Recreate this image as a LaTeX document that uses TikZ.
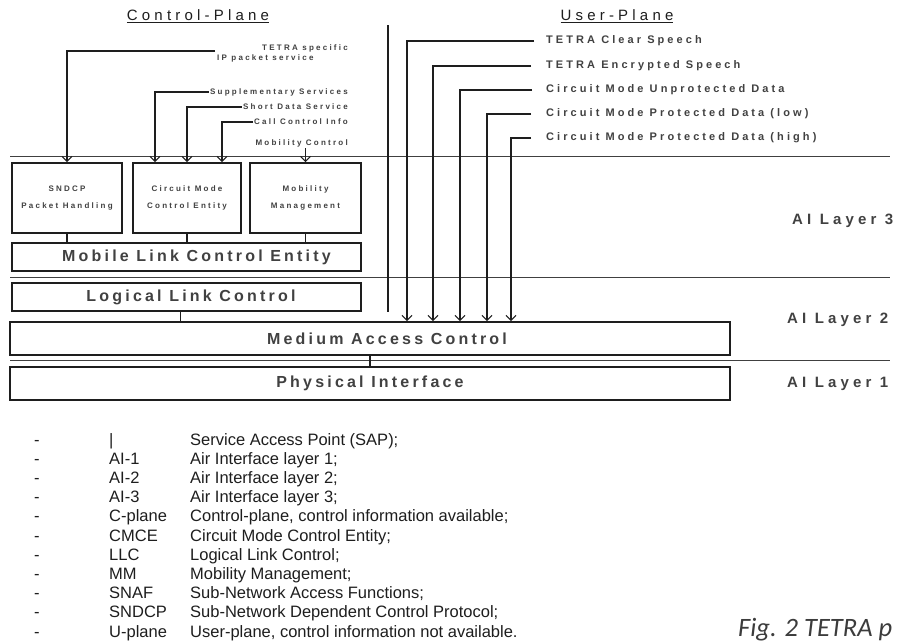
\documentclass[tikz,border=0pt]{standalone}
\usepackage{fontspec}
\setmainfont{Liberation Sans}
\newfontfamily\spaced[LetterSpace=28]{Liberation Sans}
\newfontfamily\boxfont[LetterSpace=20]{Liberation Sans}
\newfontfamily\capfont{Carlito}
\usetikzlibrary{arrows.meta, positioning, calc}
\definecolor{ink}{RGB}{30, 30, 30}
\definecolor{label}{RGB}{65, 65, 65}
\definecolor{capgray}{RGB}{60, 60, 60}

\begin{document}
\begin{tikzpicture}[
            x=1pt, y=-1pt,
            box/.style={draw=ink, line width=1.6pt, inner sep=0pt, text=label, align=center},
            bigbox/.style={box, minimum height=28pt, font=\boxfont\bfseries\fontsize{16}{18}\selectfont},
            smallbox/.style={box, minimum width=110pt, minimum height=70pt, font=\spaced\bfseries\fontsize{8}{17}\selectfont},
            arrow/.style={-{Straight Barb[length=5pt, width=10pt]}, line width=1.2pt, ink},
            link/.style={line width=1.2pt, ink},
            layer/.style={line width=1pt, ink!85},
            ctl/.style={font=\spaced\bfseries\fontsize{8}{9}\selectfont, text=label, inner sep=1pt},
            usr/.style={font=\spaced\bfseries\fontsize{11}{13}\selectfont, text=label, inner sep=1pt, anchor=west},
            lyr/.style={font=\spaced\bfseries\fontsize{15}{17}\selectfont, text=label, anchor=west, inner sep=0pt},
            head/.style={font=\spaced\fontsize{15}{17}\selectfont, text=ink},
            leg/.style={font=\fontsize{16.5}{19}\selectfont, text=ink, inner sep=0pt, anchor=base west}
        ]
            \fill[white] (0,0) rectangle (898,643);
            \useasboundingbox (0,0) rectangle (898,643);

            % headings
            \node[head] (cplane) at (198,16) {\underline{Control-Plane}};
            \node[head] (uplane) at (617,16) {\underline{User-Plane}};

            % layer boundaries and SAP bar
            \draw[layer] (10,156) -- (890,156);
            \draw[layer] (10,277) -- (890,277);
            \draw[layer] (10,360) -- (890,360);
            \draw[ink, line width=2.6pt] (388,25) -- (388,312);

            % layer 3 entities
            \node[smallbox] (sndcp) at (67,198) {SNDCP\\Packet Handling};
            \node[smallbox, minimum width=108pt] (cmce) at (187,198) {Circuit Mode\\Control Entity};
            \node[smallbox, minimum width=111pt] (mm) at (305.5,198) {Mobility\\Management};
            \node[bigbox, minimum width=349pt] (mlce) at (186.5,257) {\hspace*{20pt}Mobile Link Control Entity};

            % layer 2 and 1
            \node[bigbox, minimum width=349pt] (llc) at (186.5,297) {\hspace*{9pt}Logical Link Control};
            \node[bigbox, minimum width=720pt, minimum height=33pt] (mac) at (370,338.5) {\hspace*{34pt}Medium Access Control};
            \node[bigbox, minimum width=720pt, minimum height=33pt] (phy) at (370,383.5) {Physical Interface};

            \node[lyr] (ai3) at (792,221) {AI Layer 3};
            \node[lyr] (ai2) at (787,320) {AI Layer 2};
            \node[lyr] (ai1) at (787,384) {AI Layer 1};

            % control plane services
            \node[ctl, anchor=east] (tspec) at (349,48) {TETRA specific};
            \node[ctl, anchor=west] (ippkt) at (216,58) {IP packet service};
            \node[ctl, anchor=east] (supp) at (349,92) {Supplementary Services};
            \node[ctl, anchor=east] (sds) at (349,107) {Short Data Service};
            \node[ctl, anchor=east] (cci) at (349,122) {Call Control Info};
            \node[ctl, anchor=east] (mob) at (349,143) {Mobility Control};
            \coordinate (ipin) at (215,51);

            \draw[arrow] (ipin) -| (sndcp.north);
            \draw[arrow] (supp.west) -| ([xshift=-32pt]cmce.north);
            \draw[arrow] (sds.west) -| (cmce.north);
            \draw[arrow] (cci.west) -| ([xshift=35pt]cmce.north);
            \draw[arrow] ([yshift=14pt]mm.north) -- (mm.north);

            % user plane services
            \node[usr] (clear) at (545,41) {TETRA Clear Speech};
            \node[usr] (encr) at (545,66) {TETRA Encrypted Speech};
            \node[usr] (unprot) at (545,90) {Circuit Mode Unprotected Data};
            \node[usr] (protlow) at (545,114) {Circuit Mode Protected Data (low)};
            \node[usr] (prothigh) at (545,138) {Circuit Mode Protected Data (high)};

            \draw[arrow] ([xshift=-11pt]clear.west) -| (407,0 |- mac.north);
            \draw[arrow] ([xshift=-14pt]encr.west) -| (433,0 |- mac.north);
            \draw[arrow] ([xshift=-13pt]unprot.west) -| (460,0 |- mac.north);
            \draw[arrow] ([xshift=-14pt]protlow.west) -| (487,0 |- mac.north);
            \draw[arrow] ([xshift=-14pt]prothigh.west) -| (511,0 |- mac.north);

            % entity links
            \draw[link] (sndcp.south) -- (sndcp.south |- mlce.north);
            \draw[link] (cmce.south) -- (cmce.south |- mlce.north);
            \draw[link] (mm.south) -- (mm.south |- mlce.north);
            \draw[link] ([xshift=-6pt]llc.south) -- ([xshift=-6pt]llc.south |- mac.north);
            \draw[link] (mac.south) -- (phy.north);

            % legend
            \foreach \abbr/\desc [count=\i] in {
                    |/{Service Access Point (SAP);},
                    AI-1/{Air Interface layer 1;},
                    AI-2/{Air Interface layer 2;},
                    AI-3/{Air Interface layer 3;},
                    C-plane/{Control-plane, control information available;},
                    CMCE/{Circuit Mode Control Entity;},
                    LLC/{Logical Link Control;},
                    MM/{Mobility Management;},
                    SNAF/{Sub-Network Access Functions;},
                    SNDCP/{Sub-Network Dependent Control Protocol;},
                    U-plane/{User-plane, control information not available.}} {
                \node[leg] (dash\i) at (34,{445+19.2*(\i-1)}) {-};
                \node[leg] (abbr\i) at (109,{445+19.2*(\i-1)}) {\abbr};
                \node[leg] (desc\i) at (190,{445+19.2*(\i-1)}) {\desc};
            }

            \node[anchor=base west, inner sep=0pt, text=capgray, font=\capfont\itshape\fontsize{26.5}{30}\selectfont] (caption) at (738,636) {Fig. 2 TETRA p};
        \end{tikzpicture}
\end{document}
